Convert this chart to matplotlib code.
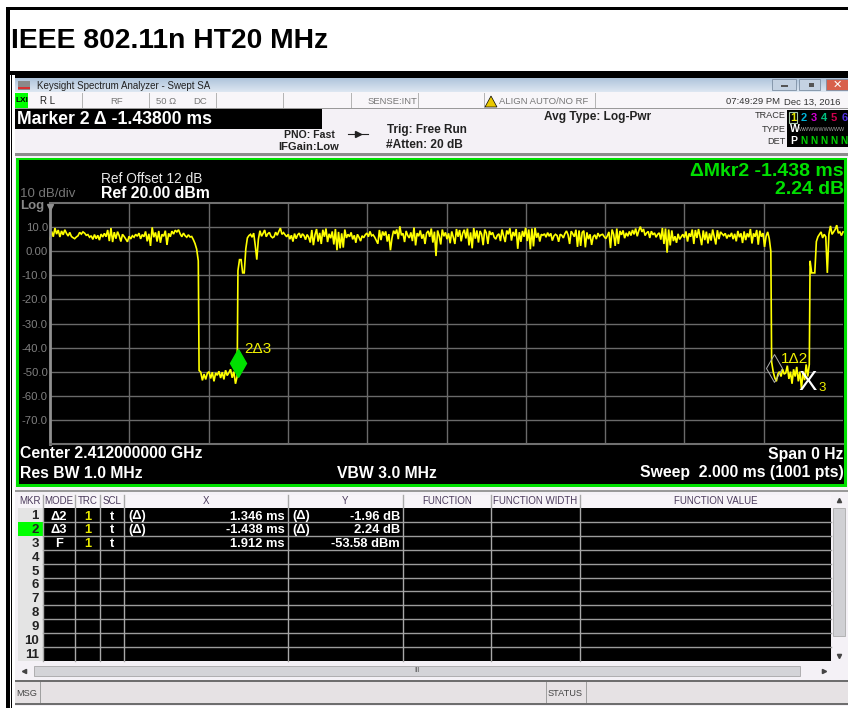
import numpy as np
import matplotlib
matplotlib.use('Agg')
import matplotlib.pyplot as plt
from matplotlib.colors import LinearSegmentedColormap
from matplotlib.patches import Rectangle

plt.rcParams['font.family'] = ['Liberation Sans', 'DejaVu Sans']

# trace (dBm), one list per stretch of the sweep
burst1 = [5.1,8.2,6.0,9.6,7.1,8.8,5.9,8.4,6.8,8.9,7.4,6.3,7.8,6.1,5.6,5.2,5.9,6.4,7.8,7.1,
          8.0,7.5,6.6,6.9,5.8,6.4,4.9,6.9,5.2,6.6,4.6,7.1,5.9,7.4,6.0,8.8,4.2,9.6,3.8,7.9,
          5.2,8.1,6.4,4.0,7.0,6.1,5.0,3.9,6.2,5.1,6.4,5.8,7.0,6.2,7.5,5.1,6.9,6.0,8.2,4.1,
          7.2,2.2,9.9,5.8,7.8,4.0,8.4,3.5,7.0,6.2,8.5,2.6,7.4,6.0,8.3,7.1,8.7,8.0,8.9,7.2,
          6.0,7.5,6.4,5.8,6.8,5.9,6.1,4.8,3.2,0.9,-4.0]
low1 = [-49.5,-50.2,-53.6,-51.0,-53.2,-50.6,-50.0,-52.8,-50.2,-54.0,-50.5,-51.5,-49.8,-52.6,
        -50.2,-53.2,-49.4,-51.6,-50.4,-49.0,-52.5,-50.0,-55.0,-52.0]
burst2 = [-8,-3.5,-3.5,-9,-9,1,5.5,6.5,7,5.8,7.5,2.5,-3.5,5,8.5,6.2,7.4,8.8,6,7.2,
          7.8,6.2,5.6,6,7.9,6.6,8.2,9.6,7,7.7,6.8,6,7,5,6.6,4,7.3,5.2,6.8,7.5,
          5.6,7.2,6.5,4.8,6.9,5.8,3.6,8.8,2.5,6.8,9.2,4,7.6,3,8.9,6,9.4,3.8,7.2,5.4,
          8.2,2.8,9.2,0.4,8,1.2,7.4,1.5,9,5.5,7,6,7.8,4.9,6.6,3.5,7,5.8,4.2,6.4,
          5.6,6.8,7.5,6,8.2,6.4,6.8,5.8,4.5,3.1,8.8,4.6,8.2,6.5,8.2,4,7.1,0.4,5.5,8.5,
          7.2,9,5,10.3,6.6,7.4,3.8,8.4,6.5,5.5,7.8,4.2,9.8,2.4,7.5,6.2,8.6,5.2,7.1,3,
          7.5,8.4,6,9.4,3.6,8.1,-2,8.6,6.4,2.8,9,6.2,7.8,5,7.4,3.3,8.2,5.8,3,9.2,
          6,8.8,4.1,7.5,8.9,5.3,9.4,2.4,7.8,1.2,9.6,5.2,8.6,3.6,8.4,7,2.5,9,7.6,3,
          8.4,6.8,7.8,5.8,5,6.6,7.2,4.2,9,6.3,3.8,8.6,7,9.5,4.4,8,6.2,9.2,1,7.9,
          3.9,8.4,6,9.7,4.2,9,0.8,9.4,2,9.7,5.6,7.6,4,7,6.6,7.2,5.8,7.7,6.2,7.4,
          4.4,6.3,7,6.5,3.9,7,6.6,5.5,7.3,8.4,6.8,3,8.3,7.2,6,8.9,1.8,8.6,2.2,7.8,
          8.5,1.6,7.8,5,7,2.6,6,6.8,5,7.5,6.2,6.8,7,6,5.2,6.4,8,1.3,9,7,
          2.2,9.4,3,8.4,6.8,8.6,5.4,7.6,6.2,8.2,6.5,8.8,7,9.4,6.2,8.5,10.2,8,9.2,6.5,
          7.6,8.2,5.5,8.3,6.8,7.6,5.8,7,7.6,4.8,9.6,3,9.4,-0.6,9,2.4,8.6,4.2,6.2,3.5,
          7.2,4.9,6,7,5.6,8.2,4,7.4,6,9,3,8.8,5.5,9.2,6,2.5,8.6,4.6,8.1,3.2,
          7.4,4.4,9,6,2.8,8.7,5,8,7.2,6.5,7.4,5.3,6.8,6,7.6,5,7.2,4.1,8.4,5.8,
          7.4,3.4,8.2,4.6,7.4,5.8,9.2,3.2,7.4,6,8.8,2.7,8.5,6,7.5,1.8,6.2,8,5.2,0]
low2 = [-46,-50,-52.5,-54,-51,-50,-52,-49,-51,-50.5,-47.5,-53,-50,-55,-49,-52,-48,-54,-50,-57,
        -50,-53.5,-47,-52,-47]
burst3 = [-4,-9,-9,-9,4,6,7,8,5.5,7,6,-9,7,10.5,7,8,9,10.8,7.5,8,6.5,8]

# start/end time of each stretch, ms
segments = [(burst1, 0.000, 0.374), (low1, 0.376, 0.472), (burst2, 0.474, 1.818),
            (low2, 1.820, 1.915), (burst3, 1.917, 2.000)]

y_ticks = [10, 0, -10, -20, -30, -40, -50, -60, -70]
y_tick_labels = ['10.0', '0.00', '-10.0', '-20.0', '-30.0', '-40.0', '-50.0', '-60.0', '-70.0']

mkr_x = [1.820, 0.474, 1.912]
mkr_y = [-48.3, -46.3, -53.58]

table_headers = ['MKR', 'MODE', 'TRC', 'SCL', 'X', 'Y', 'FUNCTION', 'FUNCTION WIDTH', 'FUNCTION VALUE']
table_modes = ['Δ2', 'Δ3', 'F']
table_x = ['1.346 ms', '-1.438 ms', '1.912 ms']
table_y = ['-1.96 dB', '2.24 dB', '-53.58 dBm']

fig = plt.figure(figsize=(8.48, 7.08), dpi=100, facecolor='white')
bg = fig.add_axes([0, 0, 1, 1])
bg.set_xlim(0, 848)
bg.set_ylim(708, 0)
bg.axis('off')


def box(x0, y0, x1, y1, color, z=1, ec='none', lw=0):
    bg.add_patch(Rectangle((x0, y0), x1 - x0, y1 - y0, fc=color, ec=ec, lw=lw, zorder=z))


def txt(x, y, s, size=8, color='black', weight='normal', ha='left', z=5):
    bg.text(x, y, s, fontsize=size, color=color, fontweight=weight, ha=ha, va='center', zorder=z)


# outer frame and title
box(6, 7, 848, 10, 'black')
box(6, 7, 10, 708, 'black')
box(6, 71, 848, 75, 'black')
box(11, 75, 12, 708, 'black')
txt(11, 41, 'IEEE 802.11n HT20 MHz', size=20.3, weight='bold')

# analyzer window
box(15, 75, 848, 706, '#f4f1f6')
box(15, 75, 848, 78, 'black')
grad = np.linspace(0, 1, 14).reshape(-1, 1)
bar_cmap = LinearSegmentedColormap.from_list('bar', ['#b0c5dc', '#dce6f1'])
bg.imshow(grad, extent=(15, 848, 92, 78), aspect='auto', cmap=bar_cmap, zorder=2)
bg.set_xlim(0, 848)
bg.set_ylim(708, 0)
box(18, 81, 30, 90, '#8a8a8a', z=3)
box(18, 87, 30, 89, '#d83030', z=3)
txt(37, 86, 'Keysight Spectrum Analyzer - Swept SA', size=7, color='#222222')
for x0, x1, c in [(772, 796, '#c4d2e2'), (799, 820, '#c4d2e2'), (826, 848, '#d8604c')]:
    box(x0, 79, x1, 90, c, z=3, ec='#7d8fa3', lw=0.6)
box(781, 85, 788, 87, '#555555', z=4)
box(809, 83, 814, 87, '#555555', z=4)
txt(837, 85, '✕', size=8, color='white', ha='center', weight='bold')

# status row
box(15, 92, 848, 108, '#f8f6f9', z=2)
box(15, 108, 848, 109, '#9a9a9a', z=2)
box(15, 93, 28, 108, '#00ff00', z=3)
txt(16, 101, 'LXI', size=6, weight='bold', color='black')
for x in [82, 149, 216, 283, 351, 418, 484, 595]:
    box(x, 93, x + 1, 108, '#b5b5b5', z=3)
txt(40, 101, 'R L', size=7, color='#222222')
txt(110, 102, 'RF', size=6.8, color='#777777')
txt(156, 102, '50 Ω', size=6.8, color='#777777')
txt(193, 102, 'DC', size=6.8, color='#777777')
txt(368, 102, 'SENSE:INT', size=6.8, color='#777777')
bg.fill([485, 491, 497], [107, 96, 107], color='#e8c800', ec='black', lw=0.5, zorder=4)
txt(499, 102, 'ALIGN AUTO/NO RF', size=6.8, color='#777777')
txt(726, 102, '07:49:29 PM', size=6.8, color='#333333')
txt(784, 102, 'Dec 13, 2016', size=6.8, color='#333333')

# marker readout and settings
box(15, 109, 322, 129, 'black', z=2)
txt(17, 119, 'Marker 2 Δ -1.43800 ms', size=12.7, color='white', weight='bold')
txt(544, 117, 'Avg Type: Log-Pwr', size=8.6, weight='bold', color='#222222')
txt(335, 135, 'PNO: Fast', size=7.6, weight='bold', color='#222222', ha='right')
txt(339, 147, 'IFGain:Low', size=8, weight='bold', color='#222222', ha='right')
bg.plot([348, 368], [134, 134], color='#222222', lw=0.8, zorder=4)
bg.plot([358], [134], marker='>', ms=4, color='#222222', zorder=4)
txt(387, 130, 'Trig: Free Run', size=8.5, weight='bold', color='#222222')
txt(386, 145, '#Atten: 20 dB', size=8.6, weight='bold', color='#222222')

# trace indicators
txt(786, 116, 'TRACE', size=6.6, color='#333333', ha='right')
txt(786, 129, 'TYPE', size=6.6, color='#333333', ha='right')
txt(786, 142, 'DET', size=6.6, color='#333333', ha='right')
box(787, 110, 848, 147, 'black', z=2)
box(789, 112, 797, 123, 'black', z=3, ec='#a8c8a8', lw=0.8)
trace_cols = ['#e8e800', '#00b4d8', '#d000d0', '#00c080', '#d00050', '#5030e0']
for i, c in enumerate(trace_cols):
    txt(793 + i * 10.3, 118, str(i + 1), size=8, color=c, weight='bold', ha='center')
txt(790, 129.5, 'W', size=7.5, color='white', weight='bold')
txt(799, 129.5, 'WWWWWWWWW', size=3.9, color='#aaaaaa')
txt(790, 141, 'P', size=7.5, color='white', weight='bold')
for i in range(5):
    txt(800 + i * 10.2, 141, 'N', size=7.2, color='#00d000', weight='bold')

# green display frame
box(15, 153, 848, 156, '#8c8c8c', z=2)
box(16, 158, 847, 487, '#00e000', z=2)
box(19, 160, 844, 484, 'black', z=3)
txt(101, 179, 'Ref Offset 12 dB', size=9.9, color='#e8e8e8')
txt(101, 194, 'Ref 20.00 dBm', size=11.4, color='white', weight='bold')
txt(20, 194, '10 dB/div', size=9.5, color='#777777')
txt(20, 206, 'Log', size=9.5, color='#888888', weight='bold')
txt(844, 171, 'ΔMkr2 -1.438 ms', size=14, color='#00e000', weight='bold', ha='right')
txt(844, 190, '2.24 dB', size=14, color='#00e000', weight='bold', ha='right')
txt(20, 454, 'Center 2.412000000 GHz', size=11.3, color='white', weight='bold')
txt(20, 473, 'Res BW 1.0 MHz', size=11.3, color='white', weight='bold')
txt(337, 473, 'VBW 3.0 MHz', size=11.3, color='white', weight='bold')
txt(843, 454, 'Span 0 Hz', size=11.3, color='white', weight='bold', ha='right')
txt(844, 473, 'Sweep  2.000 ms (1001 pts)', size=11.3, color='white', weight='bold', ha='right')
bg.plot([50], [207], marker='v', ms=5, color='#909090', zorder=6)

# trace plot
ax = fig.add_axes([50 / 848, 1 - 444 / 708, (843 - 50) / 848, (444 - 203) / 708], facecolor='black', zorder=5)
ax.set_xlim(0, 2)
ax.set_ylim(-80, 20)
ax.set_xticks(np.arange(0.2, 2, 0.2))
ax.set_yticks(y_ticks)
ax.set_yticklabels(y_tick_labels, fontsize=8.2, color='#808080')
ax.tick_params(length=0, labelbottom=False, pad=1.5)
ax.grid(True, color='#6a6a6a', lw=1)
ax.set_axisbelow(True)
for side in ['top', 'bottom', 'right']:
    ax.spines[side].set_color('#707070')
ax.spines['right'].set_visible(False)
ax.spines['left'].set_color('#909090')
ax.spines['left'].set_linewidth(2)
ax.spines['top'].set_linewidth(1.5)
ax.spines['bottom'].set_linewidth(1.5)
ax.patch.set_alpha(0)

sweep_x = np.concatenate([np.linspace(a, b, len(v)) for v, a, b in segments])
sweep_y = np.concatenate([np.array(v, dtype=float) for v, a, b in segments])
ax.plot(sweep_x, sweep_y, color='#ffff00', lw=1.2, solid_joinstyle='miter', clip_on=False)

# markers
ax.plot(mkr_x[1], mkr_y[1], marker='d', ms=14, color='#00e000', mec='#00e000', zorder=6)
ax.plot(mkr_x[0] + 0.005, mkr_y[0], marker='d', ms=14, mfc='none', mec='#b0b0b0', mew=0.7, zorder=6)
ax.annotate('2Δ3', (mkr_x[1], mkr_y[1]), xytext=(4.5, 7), textcoords='offset points',
            fontsize=11, color='#f0f000', zorder=7)
ax.annotate('1Δ2', (mkr_x[0], mkr_y[0]), xytext=(7, 3), textcoords='offset points',
            fontsize=11, color='#f0f000', zorder=7)
ax.text(mkr_x[2], mkr_y[2], 'X', fontsize=20, color='white', ha='center', va='center_baseline', zorder=7)
ax.annotate('3', (mkr_x[2], mkr_y[2]), xytext=(7.5, -8), textcoords='offset points',
            fontsize=9.5, color='#f0f000', zorder=7)

# marker table
box(15, 490, 848, 492, '#9a9a9a', z=2)
columns = [18, 43, 75, 100, 124, 288, 403, 491, 580, 852]
table_right = 831
box(18, 495, table_right, 508, '#f7f4f8', z=2)
box(18, 508, 43, 661, '#e4e4e4', z=2)
box(43, 508, table_right, 661, 'black', z=2)
for i in range(1, 12):
    y = 508 + (i - 1) * 13.9
    if i > 1:
        bg.plot([43, table_right], [y, y], color='#9c9c9c', lw=1, zorder=3)
    if i == 2:
        box(18, y, 43, y + 13.9, '#00ff00', z=3)
    txt(39, y + 8, str(i), size=9.5, weight='bold', color='#222222', ha='right')
for x in columns[1:-1]:
    bg.plot([x, x], [495, 661], color='#a8a8a8', lw=1, zorder=3)
for i, h in enumerate(table_headers):
    cx = (columns[i] + columns[i + 1]) / 2
    txt(cx, 500.5, h, size=7, color='#4b3a5c', ha='center')
for i in range(3):
    y = 516.5 + i * 13.9
    txt(59, y, table_modes[i], size=9.3, color='white', weight='bold', ha='center')
    txt(87.5, y, '1', size=9.3, color='#e8e800', weight='bold', ha='center')
    txt(112, y, 't', size=9.3, color='white', weight='bold', ha='center')
    txt(285, y, table_x[i], size=9.3, color='white', weight='bold', ha='right')
    txt(400, y, table_y[i], size=9.3, color='white', weight='bold', ha='right')
    if i < 2:
        txt(128, y, '(Δ)', size=9.3, color='white', weight='bold')
        txt(292, y, '(Δ)', size=9.3, color='white', weight='bold')

# scroll bars
box(833, 508, 845, 636, '#d0d0d4', z=2, ec='#a0a0a0', lw=0.5)
box(34, 666, 800, 676, '#d4d4d8', z=2, ec='#9a9a9a', lw=0.5)
bg.plot([839], [500], marker='^', ms=3, color='#444444', zorder=4)
bg.plot([839], [656], marker='v', ms=3, color='#444444', zorder=4)
bg.plot([24], [671], marker='<', ms=3, color='#444444', zorder=4)
bg.plot([824], [671], marker='>', ms=3, color='#444444', zorder=4)
txt(417, 671, 'III', size=5, color='#555555', ha='center')

# message bar
box(15, 681, 848, 704, '#e6e2e4', z=2)
box(15, 680, 848, 682, '#6e6e6e', z=3)
box(15, 703, 848, 705, '#6e6e6e', z=3)
for x in [40, 546, 586]:
    box(x, 682, x + 1, 703, '#a0a0a0', z=3)
txt(16, 693, 'MSG', size=6.6, color='#444444')
txt(548, 693, 'STATUS', size=6.6, color='#444444')

fig.savefig('out.png', dpi=100)
